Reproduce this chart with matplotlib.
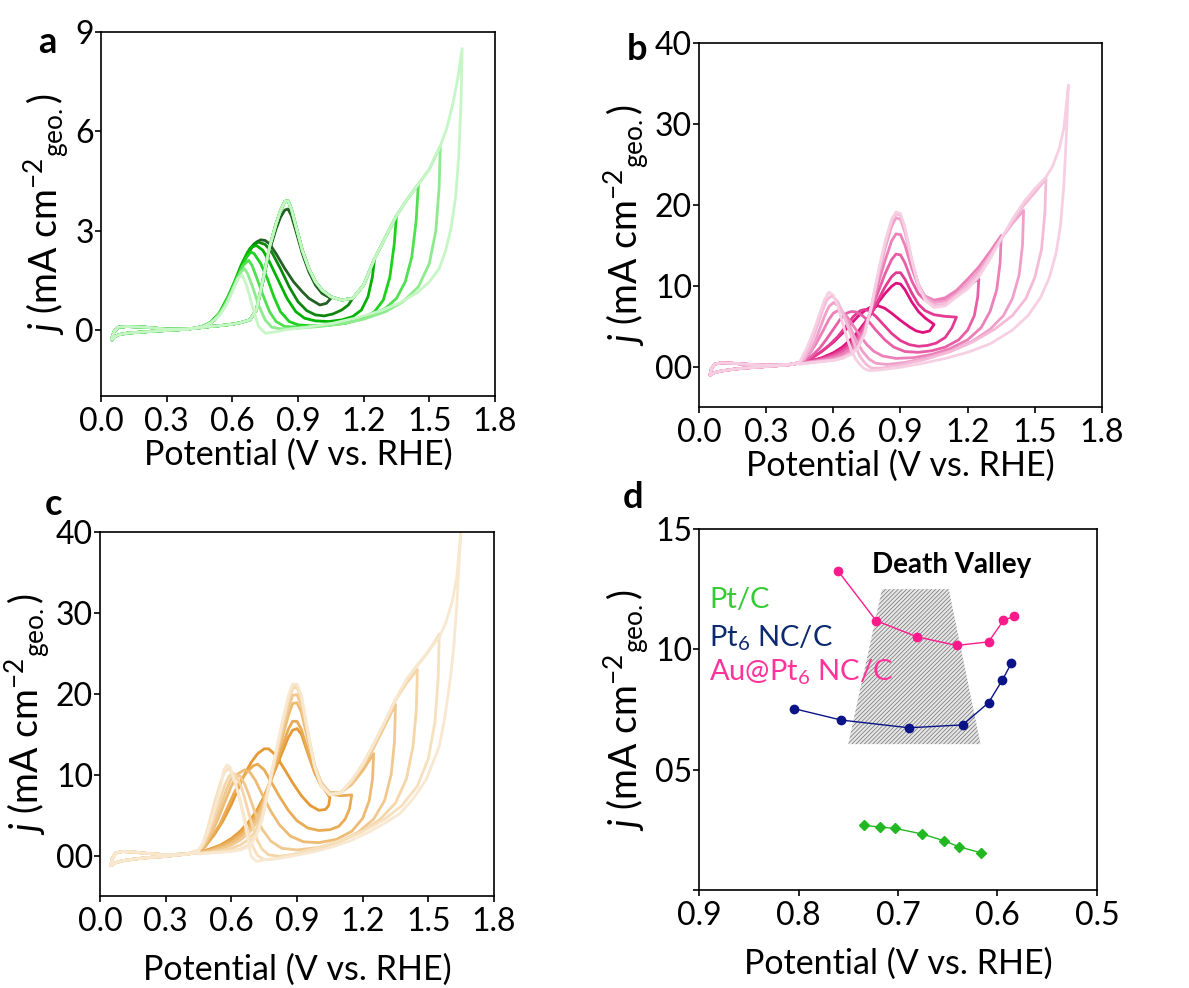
import matplotlib
matplotlib.use('Agg')
import matplotlib.pyplot as plt
from matplotlib.patches import Polygon

plt.rcParams['font.family'] = ['Lato', 'DejaVu Sans']
plt.rcParams['mathtext.fontset'] = 'custom'
plt.rcParams['mathtext.rm'] = 'Lato'
plt.rcParams['mathtext.it'] = 'Lato:italic'
plt.rcParams['mathtext.default'] = 'regular'
plt.rcParams['hatch.linewidth'] = 0.5

# upper vertex potentials of the seven CV loops (V vs. RHE)
vertices = [1.05, 1.15, 1.25, 1.35, 1.45, 1.55, 1.65]

# ---------------- panel a : Pt/C ----------------
a_base_fwd_E = [0.05, 0.06, 0.08, 0.12, 0.2, 0.3, 0.4, 0.45]
a_base_fwd_j = [-0.25, -0.05, 0.08, 0.1, 0.08, 0.02, 0.03, 0.06]
a_base_bwd_E = [0.45, 0.4, 0.3, 0.2, 0.12, 0.08, 0.06, 0.05]
a_base_bwd_j = [0.08, 0.02, -0.02, -0.06, -0.1, -0.15, -0.22, -0.3]

a_fwd_E = [0.45, 0.5, 0.55, 0.6, 0.64, 0.68, 0.71, 0.74, 0.77, 0.8, 0.82, 0.84,
           0.855, 0.87, 0.89, 0.92, 0.95, 0.98, 1.01, 1.05, 1.1, 1.15, 1.2, 1.25,
           1.3, 1.35, 1.4, 1.45, 1.5, 1.55, 1.58, 1.61, 1.63, 1.65]
a_fwd_j = [0.06, 0.1, 0.13, 0.17, 0.22, 0.3, 0.6, 1.5, 2.5, 3.2, 3.6, 3.88,
           3.9, 3.65, 3.15, 2.4, 1.85, 1.45, 1.2, 1.0, 0.9, 0.95, 1.35, 2.15,
           2.8, 3.45, 3.95, 4.4, 4.85, 5.55, 6.1, 6.9, 7.6, 8.5]
# the first (lowest vertex) loop runs slightly lower over the forward peak
a_fwd_j_first = [0.06, 0.1, 0.13, 0.17, 0.22, 0.3, 0.6, 1.45, 2.4, 3.05, 3.4,
                 3.62, 3.65, 3.45, 3.0, 2.3, 1.75, 1.35, 1.1, 0.95]

a_bwd_E = [
    [1.05, 1.03, 1.0, 0.95, 0.92, 0.88, 0.84, 0.8, 0.77, 0.75, 0.73, 0.71, 0.69,
     0.66, 0.63, 0.6, 0.56, 0.52, 0.48, 0.45],
    [1.15, 1.13, 1.1, 1.06, 1.02, 0.98, 0.94, 0.9, 0.86, 0.82, 0.78, 0.75, 0.72,
     0.7, 0.68, 0.65, 0.62, 0.59, 0.55, 0.51, 0.47, 0.45],
    [1.25, 1.24, 1.22, 1.19, 1.15, 1.1, 1.04, 0.98, 0.93, 0.89, 0.85, 0.81, 0.77,
     0.74, 0.71, 0.69, 0.67, 0.64, 0.61, 0.58, 0.54, 0.5, 0.47, 0.45],
    [1.35, 1.34, 1.32, 1.29, 1.25, 1.2, 1.12, 1.04, 0.96, 0.9, 0.86, 0.82, 0.79,
     0.76, 0.73, 0.7, 0.685, 0.665, 0.64, 0.61, 0.58, 0.54, 0.5, 0.47, 0.45],
    [1.45, 1.44, 1.42, 1.39, 1.35, 1.3, 1.22, 1.12, 1.0, 0.9, 0.84, 0.8, 0.77,
     0.74, 0.71, 0.69, 0.675, 0.65, 0.62, 0.59, 0.56, 0.52, 0.48, 0.45],
    [1.55, 1.545, 1.53, 1.5, 1.45, 1.38, 1.3, 1.2, 1.1, 1.0, 0.9, 0.82, 0.78,
     0.75, 0.72, 0.69, 0.67, 0.655, 0.64, 0.61, 0.58, 0.55, 0.51, 0.47, 0.45],
    [1.65, 1.645, 1.635, 1.62, 1.6, 1.575, 1.545, 1.5, 1.44, 1.36, 1.28, 1.18,
     1.06, 0.94, 0.84, 0.78, 0.75, 0.72, 0.69, 0.665, 0.645, 0.625, 0.6, 0.57,
     0.54, 0.5, 0.47, 0.45],
]
a_bwd_j = [
    [0.95, 0.8, 0.75, 0.95, 1.15, 1.45, 1.85, 2.3, 2.6, 2.7, 2.72, 2.65, 2.5,
     2.15, 1.7, 1.2, 0.65, 0.3, 0.12, 0.08],
    [0.95, 0.75, 0.6, 0.48, 0.42, 0.45, 0.58, 0.85, 1.3, 1.85, 2.35, 2.58, 2.65,
     2.6, 2.45, 2.05, 1.55, 1.05, 0.55, 0.25, 0.12, 0.08],
    [2.15, 1.6, 1.0, 0.6, 0.4, 0.3, 0.25, 0.27, 0.35, 0.55, 0.95, 1.5, 2.05,
     2.4, 2.55, 2.5, 2.35, 1.95, 1.45, 1.0, 0.5, 0.22, 0.12, 0.08],
    [3.45, 2.6, 1.6, 0.9, 0.55, 0.35, 0.2, 0.14, 0.12, 0.15, 0.25, 0.55, 1.0,
     1.55, 2.0, 2.3, 2.35, 2.2, 1.85, 1.35, 0.9, 0.45, 0.2, 0.1, 0.07],
    [4.4, 3.3, 2.2, 1.45, 0.95, 0.65, 0.4, 0.22, 0.12, 0.08, 0.1, 0.25, 0.55,
     1.05, 1.6, 1.95, 2.1, 1.95, 1.55, 1.1, 0.7, 0.32, 0.14, 0.08],
    [5.55, 4.3, 3.0, 2.0, 1.3, 0.85, 0.55, 0.32, 0.18, 0.1, 0.05, 0.03, 0.08,
     0.3, 0.75, 1.35, 1.7, 1.85, 1.75, 1.35, 0.9, 0.55, 0.25, 0.12, 0.08],
    [8.5, 6.9, 5.3, 4.0, 3.1, 2.4, 1.85, 1.45, 1.1, 0.8, 0.58, 0.38,
     0.2, 0.08, 0.0, -0.08, -0.1, 0.1, 0.75, 1.35, 1.65, 1.55, 1.15, 0.72,
     0.42, 0.2, 0.1, 0.08],
]
a_colors = ['#245f24', '#0b880b', '#00b300', '#1cd21c', '#50e050', '#8deb8d', '#c6f6c6']

# ---------------- panels b and c share one forward potential grid ----------------
bc_fwd_E = [0.45, 0.5, 0.55, 0.6, 0.64, 0.68, 0.71, 0.74, 0.77, 0.8, 0.83, 0.86,
            0.88, 0.9, 0.92, 0.95, 0.98, 1.01, 1.05, 1.1, 1.15, 1.2, 1.25, 1.3,
            1.35, 1.4, 1.45, 1.5, 1.55, 1.58, 1.61, 1.63, 1.65]

# ---------------- panel b : Pt6 NC/C ----------------
b_base_fwd_E = [0.05, 0.055, 0.07, 0.1, 0.15, 0.2, 0.3, 0.4, 0.45]
b_base_fwd_j = [-1.0, -0.3, 0.3, 0.45, 0.4, 0.3, 0.15, 0.25, 0.4]
b_base_bwd_E = [0.45, 0.4, 0.3, 0.2, 0.15, 0.1, 0.07, 0.05]
b_base_bwd_j = [0.5, 0.2, 0.0, -0.2, -0.35, -0.55, -0.75, -1.0]

b_fwd_j = [
    [0.4, 0.7, 1.1, 1.7, 2.4, 3.4, 4.3, 5.4, 6.6, 7.9, 9.0, 9.9, 10.3, 10.2,
     9.5, 8.0, 6.8, 6.0, 5.2],
    [0.4, 0.7, 1.0, 1.5, 2.1, 3.0, 3.9, 5.1, 6.6, 8.2, 9.8, 11.1, 11.6, 11.6,
     10.8, 9.1, 7.7, 6.9, 6.4, 6.2, 6.1],
    [0.4, 0.6, 0.9, 1.3, 1.8, 2.6, 3.5, 5.0, 7.0, 9.2, 11.4, 13.2, 13.9, 13.8,
     12.8, 10.6, 9.0, 8.2, 7.9, 8.4, 9.3, 10.0, 10.8],
    [0.4, 0.6, 0.8, 1.1, 1.5, 2.2, 3.0, 4.6, 7.2, 10.2, 13.0, 15.5, 16.4, 16.3,
     15.0, 12.2, 9.9, 8.7, 8.2, 8.5, 9.4, 10.8, 12.3, 14.2, 16.2],
    [0.35, 0.55, 0.7, 0.9, 1.2, 1.8, 2.6, 4.3, 7.3, 11.0, 14.5, 17.3, 18.4,
     18.2, 16.6, 13.0, 10.2, 8.6, 7.9, 8.1, 9.0, 10.3, 11.8, 13.8, 15.8, 17.7,
     19.3],
    [0.3, 0.5, 0.65, 0.8, 1.1, 1.6, 2.4, 4.1, 7.4, 11.4, 15.0, 17.9, 18.9, 18.7,
     17.0, 13.2, 10.1, 8.4, 7.6, 7.7, 8.8, 10.0, 11.5, 13.6, 15.8, 17.9, 19.9,
     21.5, 23.2],
    [0.3, 0.45, 0.6, 0.75, 1.0, 1.5, 2.3, 4.0, 7.5, 11.6, 15.3, 18.2, 19.1,
     18.9, 17.2, 13.3, 10.0, 8.2, 7.3, 7.5, 8.6, 9.6, 11.1, 13.3, 15.8, 18.2,
     20.3, 22.0, 23.4, 24.8, 27.0, 29.5, 34.8],
]
b_bwd_E = [
    [1.05, 1.03, 1.0, 0.97, 0.94, 0.9, 0.86, 0.83, 0.8, 0.77, 0.74, 0.71, 0.68,
     0.64, 0.6, 0.55, 0.5, 0.45],
    [1.15, 1.13, 1.1, 1.06, 1.02, 0.98, 0.94, 0.9, 0.86, 0.82, 0.79, 0.76, 0.74,
     0.72, 0.69, 0.66, 0.62, 0.58, 0.54, 0.5, 0.45],
    [1.25, 1.245, 1.23, 1.2, 1.16, 1.1, 1.04, 0.98, 0.92, 0.87, 0.83, 0.79, 0.76,
     0.73, 0.7, 0.68, 0.66, 0.63, 0.6, 0.57, 0.54, 0.5, 0.47, 0.45],
    [1.35, 1.345, 1.33, 1.3, 1.26, 1.2, 1.12, 1.04, 0.96, 0.88, 0.82, 0.78, 0.75,
     0.72, 0.69, 0.66, 0.64, 0.62, 0.6, 0.58, 0.55, 0.52, 0.49, 0.47, 0.45],
    [1.45, 1.445, 1.43, 1.4, 1.36, 1.3, 1.22, 1.12, 1.02, 0.92, 0.84, 0.79, 0.76,
     0.73, 0.7, 0.67, 0.645, 0.62, 0.6, 0.58, 0.56, 0.54, 0.52, 0.5, 0.47, 0.45],
    [1.55, 1.545, 1.53, 1.5, 1.46, 1.4, 1.32, 1.22, 1.12, 1.0, 0.9, 0.82, 0.77,
     0.745, 0.72, 0.7, 0.68, 0.66, 0.64, 0.62, 0.6, 0.59, 0.57, 0.55, 0.53, 0.51,
     0.49, 0.47, 0.45],
    [1.65, 1.64, 1.63, 1.615, 1.595, 1.565, 1.525, 1.47, 1.4, 1.3, 1.2, 1.1, 1.0,
     0.9, 0.8, 0.76, 0.74, 0.72, 0.7, 0.68, 0.66, 0.64, 0.62, 0.6, 0.58, 0.56,
     0.54, 0.52, 0.5, 0.48, 0.46, 0.45],
]
b_bwd_j = [
    [5.2, 4.4, 4.2, 4.4, 4.9, 5.7, 6.6, 7.2, 7.5, 7.4, 6.9, 6.2, 5.3, 4.1, 3.0,
     1.9, 1.0, 0.5],
    [6.1, 4.8, 3.6, 2.9, 2.6, 2.5, 2.7, 3.2, 4.1, 5.3, 6.2, 6.9, 7.05, 6.9, 6.2,
     5.1, 3.7, 2.6, 1.7, 1.0, 0.5],
    [10.8, 8.6, 6.3, 4.5, 3.3, 2.4, 1.95, 1.75, 1.85, 2.4, 3.3, 4.5, 5.5, 6.3,
     6.75, 6.8, 6.6, 5.8, 4.6, 3.4, 2.3, 1.2, 0.7, 0.5],
    [16.2, 12.8, 9.5, 6.8, 4.8, 3.3, 2.2, 1.5, 1.1, 1.0, 1.3, 1.9, 2.7, 3.8, 5.0,
     6.2, 6.7, 6.9, 6.6, 5.8, 4.2, 2.7, 1.4, 0.8, 0.5],
    [19.3, 15.0, 11.3, 8.4, 6.3, 4.6, 3.1, 1.9, 1.1, 0.5, 0.25, 0.4, 0.9, 1.9,
     3.3, 5.2, 6.6, 7.6, 7.9, 7.4, 6.2, 4.7, 3.2, 2.0, 0.9, 0.5],
    [23.2, 19.0, 14.5, 11.0, 8.4, 6.3, 4.6, 3.0, 1.8, 0.8, 0.2, -0.2, -0.2, 0.3,
     1.2, 2.4, 3.8, 5.3, 6.8, 8.0, 8.6, 8.7, 8.2, 6.8, 5.1, 3.5, 2.2, 1.1, 0.5],
    [34.8, 28.0, 22.5, 17.5, 14.0, 11.0, 8.5, 6.3, 4.5, 2.8, 1.75, 1.0, 0.4,
     -0.1, -0.45, -0.5, -0.3, 0.2, 0.9, 2.0, 3.6, 5.5, 7.5, 8.8, 9.2, 8.2, 6.6,
     5.0, 3.5, 2.2, 1.1, 0.6],
]
b_colors = ['#e0117f', '#e33a93', '#e85ea7', '#ec80b9', '#f09fca', '#f4bad8', '#f7cfe3']

# ---------------- panel c : Au@Pt6 NC/C ----------------
c_base_fwd_E = [0.05, 0.055, 0.07, 0.1, 0.15, 0.2, 0.3, 0.4, 0.45]
c_base_fwd_j = [-1.2, -0.4, 0.3, 0.5, 0.45, 0.3, 0.1, 0.2, 0.35]
c_base_bwd_E = [0.45, 0.4, 0.3, 0.2, 0.15, 0.1, 0.07, 0.05]
c_base_bwd_j = [0.6, 0.2, -0.1, -0.3, -0.45, -0.65, -0.9, -1.2]

c_fwd_j = [
    [0.4, 0.8, 1.3, 2.1, 3.0, 4.2, 5.3, 6.8, 8.6, 10.6, 12.6, 14.6, 15.5, 15.7,
     15.0, 12.6, 10.3, 8.8, 7.2],
    [0.4, 0.7, 1.2, 1.9, 2.7, 3.8, 4.9, 6.5, 8.6, 10.9, 13.3, 15.6, 16.6, 16.6,
     15.6, 12.9, 10.3, 8.6, 7.6, 7.4, 7.5],
    [0.35, 0.6, 1.0, 1.6, 2.3, 3.3, 4.4, 6.1, 8.6, 11.4, 14.3, 17.3, 18.8, 18.9,
     17.7, 14.3, 11.0, 9.0, 7.8, 7.8, 8.8, 10.5, 12.6],
    [0.3, 0.5, 0.8, 1.3, 1.9, 2.8, 3.9, 5.7, 8.6, 11.8, 15.0, 18.2, 19.8, 19.9,
     18.6, 14.8, 11.2, 9.1, 7.7, 7.8, 9.0, 11.0, 13.3, 16.0, 18.7],
    [0.3, 0.4, 0.6, 0.9, 1.3, 2.0, 3.0, 5.0, 8.5, 12.0, 15.6, 19.0, 20.7, 20.8,
     19.4, 15.1, 11.2, 8.9, 7.6, 7.8, 9.2, 11.3, 13.7, 16.4, 19.2, 21.3, 23.0],
    [0.25, 0.35, 0.45, 0.6, 0.8, 1.3, 2.4, 4.6, 8.4, 12.2, 16.0, 19.5, 21.0,
     21.1, 19.7, 15.2, 11.1, 8.8, 7.6, 7.8, 9.3, 11.3, 13.8, 16.5, 19.3, 21.7,
     23.5, 25.2, 27.4],
    [0.2, 0.3, 0.4, 0.5, 0.7, 1.1, 2.2, 4.3, 8.2, 12.3, 16.2, 19.7, 21.2, 21.2,
     19.8, 15.3, 11.0, 8.6, 7.5, 7.7, 9.3, 11.2, 13.8, 16.5, 19.3, 21.8, 23.6,
     25.3, 27.0, 28.8, 31.5, 34.5, 40.5],
]
c_bwd_E = [
    [1.05, 1.045, 1.03, 1.0, 0.96, 0.92, 0.88, 0.84, 0.8, 0.77, 0.75, 0.72, 0.69,
     0.66, 0.63, 0.6, 0.56, 0.52, 0.48, 0.45],
    [1.15, 1.14, 1.12, 1.09, 1.05, 1.0, 0.95, 0.9, 0.86, 0.82, 0.78, 0.75, 0.72,
     0.7, 0.67, 0.64, 0.61, 0.58, 0.55, 0.51, 0.48, 0.45],
    [1.25, 1.245, 1.23, 1.2, 1.15, 1.08, 1.0, 0.93, 0.87, 0.82, 0.78, 0.74, 0.71,
     0.685, 0.66, 0.63, 0.6, 0.57, 0.54, 0.51, 0.48, 0.45],
    [1.35, 1.345, 1.33, 1.3, 1.25, 1.18, 1.1, 1.0, 0.9, 0.83, 0.78, 0.74, 0.71,
     0.68, 0.66, 0.64, 0.62, 0.6, 0.58, 0.55, 0.52, 0.49, 0.47, 0.45],
    [1.45, 1.445, 1.43, 1.4, 1.35, 1.28, 1.2, 1.1, 1.0, 0.9, 0.82, 0.77, 0.74,
     0.72, 0.7, 0.68, 0.66, 0.64, 0.62, 0.61, 0.59, 0.57, 0.55, 0.52, 0.49, 0.47,
     0.45],
    [1.55, 1.545, 1.53, 1.5, 1.45, 1.38, 1.3, 1.2, 1.1, 1.0, 0.9, 0.8, 0.75,
     0.72, 0.7, 0.68, 0.66, 0.64, 0.62, 0.6, 0.59, 0.57, 0.55, 0.53, 0.51, 0.49,
     0.47, 0.45],
    [1.65, 1.64, 1.63, 1.615, 1.6, 1.575, 1.55, 1.49, 1.43, 1.37, 1.3, 1.22,
     1.14, 1.065, 0.98, 0.91, 0.83, 0.76, 0.715, 0.69, 0.67, 0.64, 0.61, 0.595,
     0.58, 0.565, 0.55, 0.53, 0.51, 0.49, 0.47, 0.45],
]
c_bwd_j = [
    [7.2, 6.2, 5.7, 5.6, 6.2, 7.4, 9.0, 10.8, 12.5, 13.2, 13.2, 12.6, 11.5, 10.0,
     8.2, 6.3, 4.2, 2.5, 1.2, 0.6],
    [7.5, 5.8, 4.5, 3.6, 3.2, 3.1, 3.4, 4.3, 5.6, 7.3, 9.2, 10.6, 11.3, 11.1,
     10.3, 9.2, 7.6, 5.8, 4.0, 2.2, 1.1, 0.6],
    [12.6, 9.5, 6.8, 4.6, 3.0, 2.0, 1.6, 1.7, 2.4, 3.8, 5.5, 7.6, 9.3, 10.3,
     10.6, 10.1, 8.6, 6.6, 4.6, 2.8, 1.3, 0.6],
    [18.7, 14.0, 10.0, 6.8, 4.5, 2.9, 1.8, 1.0, 0.7, 0.9, 1.8, 3.3, 5.2, 7.5,
     8.9, 9.8, 10.0, 9.5, 8.3, 6.0, 3.8, 2.0, 1.1, 0.6],
    [23.0, 18.0, 13.5, 9.5, 6.5, 4.5, 3.0, 1.8, 0.9, 0.2, -0.1, 0.1, 0.8, 1.8,
     3.3, 5.2, 7.2, 8.9, 9.9, 10.2, 9.8, 8.7, 7.0, 4.6, 2.4, 1.2, 0.6],
    [27.4, 22.0, 16.5, 12.0, 8.6, 6.2, 4.5, 3.0, 1.9, 1.0, 0.3, -0.4, -0.5, 0.0,
     1.0, 2.6, 4.6, 6.8, 8.8, 10.3, 10.8, 10.4, 9.0, 7.2, 5.2, 3.2, 1.5, 0.6],
    [40.5, 36.0, 31.0, 25.5, 21.8, 17.0, 13.5, 9.4, 7.0, 5.2, 4.0, 2.8, 1.8,
     1.1, 0.5, 0.1, -0.3, -0.5, -0.7, -0.1, 2.8, 6.9, 9.8, 10.9, 11.2, 10.6,
     8.3, 6.3, 4.4, 2.8, 1.5, 0.7],
]
c_colors = ['#e69a35', '#eaab55', '#eebb75', '#f1c990', '#f4d6a8', '#f6e0bd', '#f8e8d0']

# ---------------- panel d : current density vs onset potential ----------------
au_E = [0.760, 0.722, 0.681, 0.641, 0.609, 0.594, 0.583]
au_j = [13.24, 11.19, 10.52, 10.16, 10.31, 11.20, 11.38]
pt6_E = [0.805, 0.757, 0.689, 0.635, 0.609, 0.595, 0.586]
pt6_j = [7.54, 7.06, 6.74, 6.86, 7.78, 8.73, 9.43]
ptc_E = [0.734, 0.718, 0.703, 0.676, 0.654, 0.639, 0.617]
ptc_j = [2.69, 2.61, 2.56, 2.33, 2.05, 1.80, 1.55]
valley_E = [0.750, 0.716, 0.649, 0.617]
valley_j = [6.06, 12.5, 12.5, 6.06]

ylab = r'$\mathit{j}$ (mA cm$^{-2}{}_{geo.}$)'
xlab = 'Potential (V vs. RHE)'


def style(ax):
    for s in ax.spines.values():
        s.set_linewidth(1.2)
    ax.tick_params(direction='out', length=4, width=1.2, labelsize=23, pad=1,
                   top=False, right=False)
    ax.tick_params(axis='x', pad=4)
    ax.set_xlabel(xlab, fontsize=24.5, labelpad=1)
    ax.set_ylabel(ylab, fontsize=27, labelpad=3)


def draw_cv(ax, fwd_E, fwd_list, bwd_E, bwd_j, base, colors):
    fE, fj, bE, bj = base
    for k in range(len(vertices)):
        fw = fwd_list[k]
        E = fE + fwd_E[:len(fw)] + bwd_E[k] + bE
        j = fj + fw + bwd_j[k] + bj
        ax.plot(E, j, color=colors[k], lw=2.0, solid_joinstyle='round')


fig = plt.figure(figsize=(11.89, 9.88), dpi=100)
ax_a = fig.add_axes([0.0849, 0.5992, 0.3314, 0.3684])
ax_b = fig.add_axes([0.5879, 0.5881, 0.3389, 0.3684])
ax_c = fig.add_axes([0.0841, 0.0931, 0.3314, 0.3684])
ax_d = fig.add_axes([0.5879, 0.0992, 0.3347, 0.3654])

# a
a_fwd_cut = [a_fwd_j_first] + [a_fwd_j[:a_fwd_E.index(v) + 1] for v in vertices[1:]]
draw_cv(ax_a, a_fwd_E, a_fwd_cut, a_bwd_E, a_bwd_j,
        (a_base_fwd_E, a_base_fwd_j, a_base_bwd_E, a_base_bwd_j), a_colors)
ax_a.set_xlim(0, 1.8)
ax_a.set_ylim(-2, 9)
ax_a.set_yticks([0, 3, 6, 9])

# b
draw_cv(ax_b, bc_fwd_E, b_fwd_j, b_bwd_E, b_bwd_j,
        (b_base_fwd_E, b_base_fwd_j, b_base_bwd_E, b_base_bwd_j), b_colors)
ax_b.set_xlim(0, 1.8)
ax_b.set_ylim(-5, 40)

# c
draw_cv(ax_c, bc_fwd_E, c_fwd_j, c_bwd_E, c_bwd_j,
        (c_base_fwd_E, c_base_fwd_j, c_base_bwd_E, c_base_bwd_j), c_colors)
ax_c.set_xlim(0, 1.8)
ax_c.set_ylim(-5, 40)

for ax in (ax_a, ax_b, ax_c):
    ax.set_xticks([0.0, 0.3, 0.6, 0.9, 1.2, 1.5, 1.8])
    ax.set_xticklabels(['0.0', '0.3', '0.6', '0.9', '1.2', '1.5', '1.8'])
for ax in (ax_b, ax_c):
    ax.set_yticks([0, 10, 20, 30, 40])
    ax.set_yticklabels(['00', '10', '20', '30', '40'])

# d
ax_d.add_patch(Polygon(list(zip(valley_E, valley_j)), closed=True,
                       facecolor='#e6e6e6', edgecolor='#707070',
                       hatch='////////', lw=0, zorder=1))
ax_d.plot(au_E, au_j, '-o', color='#ff1a8c', lw=1.0, ms=6, zorder=3)
ax_d.plot(pt6_E, pt6_j, '-o', color='#0a1487', lw=1.0, ms=6, zorder=3)
ax_d.plot(ptc_E, ptc_j, '-D', color='#22b822', lw=1.0, ms=5.5, zorder=3)
ax_d.text(0.646, 13.5, 'Death Valley', fontsize=20, fontweight='bold',
          ha='center', va='center')
ax_d.text(0.89, 12.05, 'Pt/C', color='#33cc33', fontsize=21, va='center')
ax_d.text(0.89, 10.45, r'Pt$_6$ NC/C', color='#0d2a6e', fontsize=21, va='center')
ax_d.text(0.89, 9.05, r'Au@Pt$_6$ NC/C', color='#ff3399', fontsize=21, va='center')
ax_d.set_xlim(0.9, 0.5)
ax_d.set_ylim(0, 15)
ax_d.set_xticks([0.9, 0.8, 0.7, 0.6, 0.5])
ax_d.set_xticklabels(['0.9', '0.8', '0.7', '0.6', '0.5'])
ax_d.set_yticks([0, 5, 10, 15])
ax_d.set_yticklabels(['', '05', '10', '15'])

for ax in (ax_a, ax_b, ax_c, ax_d):
    style(ax)
ax_c.xaxis.labelpad = 12
ax_d.xaxis.labelpad = 12

for lab, x, y in (('a', 0.0395, 0.9565), ('b', 0.5357, 0.9494),
                  ('c', 0.0446, 0.4889), ('d', 0.5324, 0.4960)):
    fig.text(x, y, lab, fontsize=26, fontweight='bold', ha='center', va='center')

fig.savefig('out.png', dpi=100)
